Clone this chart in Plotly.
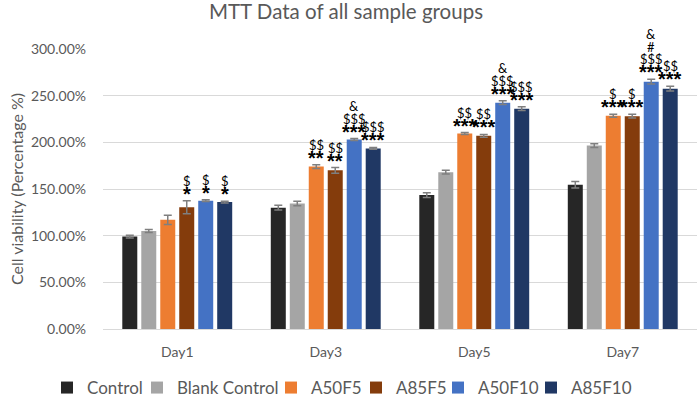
import plotly.graph_objects as go

days = ["Day1", "Day3", "Day5", "Day7"]
groups = ["Control", "Blank Control", "A50F5", "A85F5", "A50F10", "A85F10"]
colors = ["#262626", "#A5A5A5", "#ED7D31", "#843C0C", "#4472C4", "#203864"]

control = [99, 130, 143.5, 154.5]
blank_control = [105, 134.5, 168, 196.5]
a50f5 = [117, 174, 209.5, 228.5]
a85f5 = [130.5, 170, 207, 228]
a50f10 = [137.5, 203, 242.5, 265]
a85f10 = [136, 193.5, 236, 257.5]

control_err = [1.5, 2.5, 2.5, 3.5]
blank_control_err = [1.5, 2.5, 2, 2]
a50f5_err = [5, 2, 1, 1.5]
a85f5_err = [7, 3, 1.5, 2]
a50f10_err = [1, 1, 2, 2.5]
a85f10_err = [1, 1, 2, 2.5]

y_ticks = [0, 50, 100, 150, 200, 250, 300]
y_tick_text = ["0.00%", "50.00%", "100.00%", "150.00%", "200.00%", "250.00%", "300.00%"]

# significance labels per group per day: stars and symbol lines (bottom to top)
stars = {
    "A50F5": ["", "**", "***", "***"],
    "A85F5": ["*", "**", "***", "***"],
    "A50F10": ["*", "***", "***", "***"],
    "A85F10": ["*", "***", "***", "***"],
}
symbols = {
    "A50F5": [[], ["$$"], ["$$"], ["$"]],
    "A85F5": [["$"], ["$$"], ["$$"], ["$"]],
    "A50F10": [["$"], ["$$$", "&"], ["$$$", "&"], ["$$$", "#", "&"]],
    "A85F10": [["$"], ["$$$"], ["$$$"], ["$$"]],
}

values = [control, blank_control, a50f5, a85f5, a50f10, a85f10]
errors = [control_err, blank_control_err, a50f5_err, a85f5_err, a50f10_err, a85f10_err]

W, H = 699, 398
ML, MR, MT, MB = 103, 2, 49, 69
BARGAP = 0.233
BARGROUPGAP = 0.21
FONT = "Lato"
GRAY = "#595959"
LEGEND_TEXT_X = [87, 177, 311, 396, 478, 571]


def safe(t):
    # avoid LaTeX detection of "$...$" and entity parsing of "&"
    return t.replace("&", "&amp;").replace("$", "&#36;")


fig = go.Figure()
for i, (g, c, v, e) in enumerate(zip(groups, colors, values, errors)):
    fig.add_trace(go.Bar(
        x=days, y=v, name=g, marker=dict(color=c, line=dict(width=0)),
        error_y=dict(type="data", array=e, visible=True, color="#7F7F7F",
                     thickness=1.5, width=4),
        legend="legend" if i == 0 else f"legend{i + 1}",
        hoverinfo="skip",
    ))

cat_px = (W - ML - MR) / len(days)
slot_px = cat_px * (1 - BARGAP) / len(groups)

annotations = []
for gi, g in enumerate(groups):
    if g not in stars:
        continue
    for di, d in enumerate(days):
        top = values[gi][di] + errors[gi][di]
        xs = (gi - 2.5) * slot_px
        s = stars[g][di]
        if s:
            annotations.append(dict(
                x=d, y=top, xref="x", yref="y", xshift=xs, yshift=7,
                yanchor="middle", showarrow=False, text=s,
                font=dict(family="Liberation Sans", size=20, color="#000000",
                          weight="bold"),
            ))
        base = 20 if s else 8
        for k, sym in enumerate(symbols[g][di]):
            annotations.append(dict(
                x=d, y=top, xref="x", yref="y", xshift=xs,
                yshift=base + 12.5 * k,
                yanchor="middle", showarrow=False, text=safe(sym),
                font=dict(family=FONT, size=13, color="#000000"),
            ))

legends = {}
for i, tx in enumerate(LEGEND_TEXT_X):
    key = "legend" if i == 0 else f"legend{i + 1}"
    legends[key] = dict(
        orientation="h", x=(tx - 40) / W, xref="container", xanchor="left",
        y=1 - 388 / H, yref="container", yanchor="middle",
        font=dict(family=FONT, size=17, color=GRAY), itemwidth=30,
        bgcolor="rgba(0,0,0,0)",
    )

fig.update_layout(
    width=W, height=H,
    margin=dict(l=ML, r=MR, t=MT, b=MB, autoexpand=False),
    paper_bgcolor="white", plot_bgcolor="white",
    barmode="group", bargap=BARGAP, bargroupgap=BARGROUPGAP,
    title=dict(text="MTT Data of all sample groups", x=346 / W, xref="container",
               y=1 - 12 / H, yref="container", yanchor="middle", xanchor="center",
               font=dict(family=FONT, size=20.5, color=GRAY)),
    font=dict(family=FONT, color=GRAY),
    showlegend=True,
    hovermode=False,
    annotations=annotations,
    **legends,
)
fig.update_xaxes(showgrid=False, showline=True, linecolor="#D9D9D9", linewidth=1,
                 ticks="", tickfont=dict(family=FONT, size=14, color=GRAY),
                 tickangle=0, ticklabelstandoff=10, automargin=False)
fig.update_yaxes(range=[0, 300], tickvals=y_ticks, ticktext=y_tick_text,
                 showgrid=True, gridcolor="#D9D9D9",
                 gridwidth=1, zeroline=False, showline=False, ticks="",
                 tickfont=dict(family=FONT, size=14, color=GRAY),
                 ticklabelstandoff=16, automargin=False,
                 title=dict(text="Cell viability (Percentage %)", standoff=3,
                            font=dict(family=FONT, size=16, color=GRAY)))

fig.write_html("out.html", config={"displayModeBar": False},
               post_script="document.body.style.margin='0';")
